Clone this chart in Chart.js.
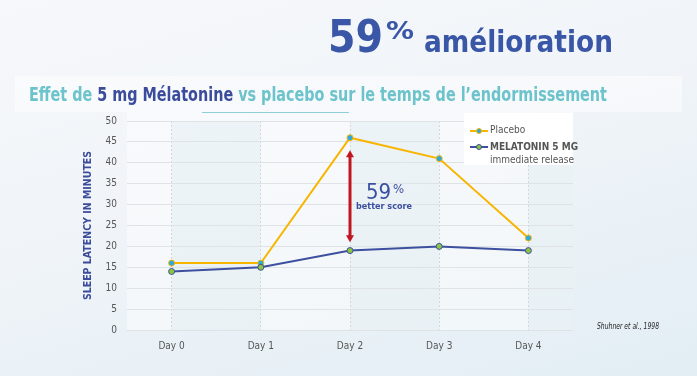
<!DOCTYPE html>
<html>
<head>
<meta charset="utf-8">
<script src="https://cdn.jsdelivr.net/npm/chart.js@4.4.0/dist/chart.umd.min.js"></script>
<style>
    html, body { margin: 0; padding: 0; }
    body {
        width: 697px; height: 376px; overflow: hidden; position: relative;
        background: linear-gradient(165deg, #f6f8fb 0%, #f0f4f8 45%, #e2eef4 100%);
        font-family: 'Liberation Sans Narrow', 'DejaVu Sans Condensed', sans-serif;
    }
    #trendChart { position: absolute; left: 0; top: 0; }
    .abs { position: absolute; white-space: nowrap; transform-origin: 0 0; line-height: 1; }
    .head { color: #3a56a6; font-weight: bold; }
    #titleBar { position: absolute; left: 15px; top: 76px; width: 667px; height: 36px; background: rgba(255,255,255,0.45); }
    #titleLine { position: absolute; left: 202px; top: 112px; width: 147px; height: 1px; background: #8fd0d8; }
    .teal { color: #6cc3cc; }
    .navy { color: #3b4c9c; }
    #legend { position: absolute; left: 464px; top: 113px; width: 109px; height: 52px; background: #fff; }
    .lg { position: absolute; font-size: 10px; color: #555; white-space: nowrap; line-height: 1; }
    .icon { position: absolute; width: 18px; height: 2px; }
    .icon i { position: absolute; left: 6px; top: -2px; width: 4px; height: 4px; border-radius: 50%; border: 1px solid; }
    #cite { font-style: italic; font-size: 8px; color: #222; }
</style>
</head>
<body>
<canvas id="trendChart" width="697" height="376"></canvas>

<div class="abs head" id="h59" style="left:328px; top:15px; font-size:44px;">59</div>
<div class="abs head" id="hPct" style="left:386px; top:19px; font-size:24px;">%</div>
<div class="abs head" id="hAm" style="left:424px; top:27px; font-size:30px;">amélioration</div>

<div id="titleBar"></div>
<div class="abs" id="title" style="left:29px; top:85px; font-size:19px; font-weight:bold;">
    <span class="teal">Effet de </span><span class="navy">5 mg Mélatonine</span><span class="teal"> vs placebo sur le temps de l’endormissement</span>
</div>
<div id="titleLine"></div>

<div id="legend">
    <div class="icon" style="left:6px; top:17px; background:#f7b500;"><i style="background:#2aa8e0; border-color:#f7b500;"></i></div>
    <div class="lg" style="left:26px; top:12px;">Placebo</div>
    <div class="icon" style="left:6px; top:33px; background:#3d4f9f;"><i style="background:#8cc640; border-color:#3d4f9f;"></i></div>
    <div class="lg" style="left:26px; top:29px; font-weight:bold;">MELATONIN 5 MG</div>
    <div class="lg" style="left:26px; top:42px;">immediate release</div>
</div>

<div class="abs" id="cite" style="left:597px; top:323px;">Shuhner et al., 1998</div>

<script>
// catégories et valeurs (minutes)
const days = ['Day 0', 'Day 1', 'Day 2', 'Day 3', 'Day 4'];
const placebo = [16, 16, 46, 41, 22];
const melatonin = [14, 15, 19, 20, 19];

// axe Y
const yMin = 0;
const yMax = 50;
const yStep = 5;

// flèche "59% better score" sur Day 2
const arrowDay = 2;
const arrowRange = [43, 21];
const gainLabel = '59';
const gainSub = 'better score';

// ajuste la largeur des textes HTML
function fitWidth(id, w) {
    const el = document.getElementById(id);
    const cur = el.getBoundingClientRect().width;
    el.style.transform = 'scaleX(' + (w / cur) + ')';
}

document.addEventListener('DOMContentLoaded', function() {
    fitWidth('h59', 55);
    fitWidth('hPct', 28);
    fitWidth('hAm', 189);
    fitWidth('title', 578);
    fitWidth('cite', 62);
    initializeChart();
});

// bandes grisées entre Day0-1, Day2-3, Day4-fin
const bandsPlugin = {
    id: 'bands',
    beforeDraw(chart) {
        const { ctx, chartArea, scales } = chart;
        const x = scales.x;
        ctx.save();
        ctx.fillStyle = 'rgba(255,255,255,0.45)';
        ctx.fillRect(chartArea.left, chartArea.top - 9, chartArea.right - chartArea.left, chartArea.bottom - chartArea.top + 9);
        ctx.fillStyle = 'rgba(205,222,230,0.25)';
        for (let i = 0; i < days.length; i += 2) {
            const x0 = x.getPixelForValue(i);
            const x1 = i + 1 < days.length ? x.getPixelForValue(i + 1) : chartArea.right;
            ctx.fillRect(x0, chartArea.top, x1 - x0, chartArea.bottom - chartArea.top);
        }
        ctx.restore();
    }
};

const arrowPlugin = {
    id: 'gainArrow',
    afterDatasetsDraw(chart) {
        const { ctx, scales } = chart;
        const px = scales.x.getPixelForValue(arrowDay);
        const yTop = scales.y.getPixelForValue(arrowRange[0]);
        const yBot = scales.y.getPixelForValue(arrowRange[1]);
        ctx.save();
        ctx.strokeStyle = '#c1161f';
        ctx.fillStyle = '#c1161f';
        ctx.lineWidth = 3;
        ctx.beginPath();
        ctx.moveTo(px, yTop + 5);
        ctx.lineTo(px, yBot - 5);
        ctx.stroke();
        ctx.beginPath();
        ctx.moveTo(px, yTop); ctx.lineTo(px - 4, yTop + 7); ctx.lineTo(px + 4, yTop + 7); ctx.closePath();
        ctx.fill();
        ctx.beginPath();
        ctx.moveTo(px, yBot); ctx.lineTo(px - 4, yBot - 7); ctx.lineTo(px + 4, yBot - 7); ctx.closePath();
        ctx.fill();

        const fam = "'Liberation Sans Narrow', 'DejaVu Sans Condensed', sans-serif";
        ctx.fillStyle = '#3b4fa0';
        ctx.textBaseline = 'alphabetic';
        ctx.textAlign = 'left';
        ctx.font = '22px ' + fam;
        ctx.fillText(gainLabel, px + 16, 199);
        ctx.font = '13px ' + fam;
        ctx.fillText('%', px + 43, 193);
        ctx.font = 'bold 9px ' + fam;
        ctx.textAlign = 'center';
        ctx.fillText(gainSub, px + 34, 209);
        ctx.restore();
    }
};

function initializeChart() {
    const ctx = document.getElementById('trendChart').getContext('2d');
    Chart.defaults.font.family = "'Liberation Sans Narrow', 'DejaVu Sans Condensed', sans-serif";

    const chartConfig = {
        type: 'line',
        data: {
            labels: days,
            datasets: [
                {
                    label: 'MELATONIN 5 MG immediate release',
                    data: melatonin,
                    borderColor: '#3d4f9f',
                    borderWidth: 2,
                    pointBackgroundColor: '#8cc640',
                    pointBorderColor: '#3d4f9f',
                    pointBorderWidth: 1,
                    pointRadius: 3,
                    tension: 0,
                    fill: false
                },
                {
                    label: 'Placebo',
                    data: placebo,
                    borderColor: '#f7b500',
                    borderWidth: 2,
                    pointBackgroundColor: '#2aa8e0',
                    pointBorderColor: '#f7b500',
                    pointBorderWidth: 1,
                    pointRadius: 3,
                    tension: 0,
                    fill: false
                }
            ]
        },
        options: {
            responsive: false,
            animation: false,
            layout: {
                padding: { left: 80, right: 124, top: 121, bottom: 0 }
            },
            plugins: {
                legend: { display: false },
                tooltip: { enabled: false }
            },
            scales: {
                x: {
                    offset: true,
                    afterFit: function(scale) { scale.height = 46; },
                    grid: {
                        offset: false,
                        color: '#d3d8dc',
                        drawTicks: false
                    },
                    border: { display: false, dash: [2, 2] },
                    ticks: {
                        color: '#555',
                        padding: 10,
                        font: { size: 10 }
                    }
                },
                y: {
                    min: yMin,
                    max: yMax,
                    afterFit: function(scale) { scale.width = 47; },
                    ticks: {
                        stepSize: yStep,
                        color: '#555',
                        padding: 10,
                        font: { size: 10 }
                    },
                    grid: {
                        color: '#dfe3e6',
                        drawTicks: false
                    },
                    border: { display: false },
                    title: {
                        display: true,
                        text: 'SLEEP LATENCY IN MINUTES',
                        color: '#3b4c9c',
                        padding: 2,
                        font: { size: 10.5, weight: 'bold' }
                    }
                }
            }
        },
        plugins: [bandsPlugin, arrowPlugin]
    };

    new Chart(ctx, chartConfig);
}
</script>
</body>
</html>
